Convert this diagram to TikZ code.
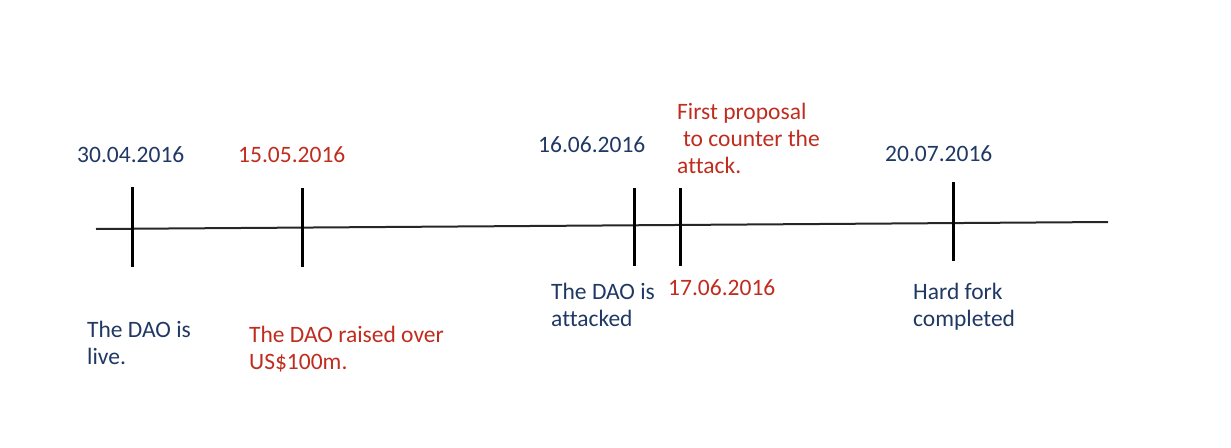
\documentclass[tikz,border=0pt]{standalone}
\usepackage{fontspec}
\setmainfont[Ligatures=NoCommon]{Carlito}
\definecolor{dblue}{RGB}{32,56,100}
\definecolor{dred}{RGB}{192,44,30}
\begin{document}
\begin{tikzpicture}[x=1pt,y=-1pt,
  lbl/.style={anchor=base west,inner sep=0pt,align=left,font=\fontsize{23.5}{27}\selectfont},
  bluetxt/.style={lbl,text=dblue},
  redtxt/.style={lbl,text=dred},
  tick/.style={line width=3pt,black},
  axis/.style={line width=2pt,black!85}]
\useasboundingbox (0,0) rectangle (1231,447);
% axis
\coordinate (aL) at (96,229);
\coordinate (aR) at (1108,222);
\draw[axis] (aL) -- (aR);
% ticks
\coordinate (t1a) at (132,187); \coordinate (t1b) at (132,267);
\coordinate (t2a) at (302,188); \coordinate (t2b) at (302,267);
\coordinate (t3a) at (634,188); \coordinate (t3b) at (634,266);
\coordinate (t4a) at (680,188); \coordinate (t4b) at (680,266);
\coordinate (t5a) at (953,182); \coordinate (t5b) at (953,261);
\draw[tick] (t1a) -- (t1b);
\draw[tick] (t2a) -- (t2b);
\draw[tick] (t3a) -- (t3b);
\draw[tick] (t4a) -- (t4b);
\draw[tick] (t5a) -- (t5b);
% labels above (multi-line nodes: base = last line)
\node[bluetxt] (d1) at (77,162) {30.04.2016};
\node[redtxt] (d2) at (238,162) {15.05.2016};
\node[bluetxt] (d3) at (538,152) {16.06.2016};
\node[redtxt] (p4) at (677,173) {First proposal\\\hspace{0.25em}to counter the\\attack.};
\node[bluetxt] (d5) at (885,161) {20.07.2016};
% labels below
\node[bluetxt] (e1) at (87,364) {The DAO is\\live.};
\node[redtxt] (e2) at (249,369) {The DAO raised over\\US\$100m.};
\node[bluetxt] (e3) at (551,326) {The DAO is\\attacked};
\node[redtxt] (d4) at (668,295) {17.06.2016};
\node[bluetxt] (e5) at (913,326) {Hard fork\\completed};
\end{tikzpicture}
\end{document}
